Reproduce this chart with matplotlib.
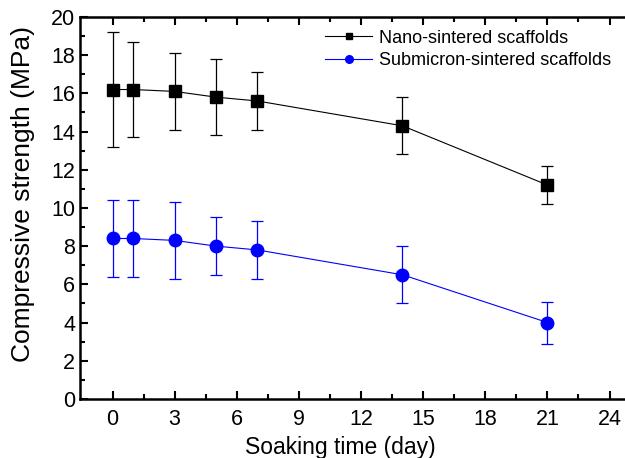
import numpy as np
import matplotlib.pyplot as plt
from matplotlib.lines import Line2D

plt.rcParams['font.family'] = ['Liberation Sans', 'DejaVu Sans']

days = [0, 1, 3, 5, 7, 14, 21]
nano = [16.2, 16.2, 16.1, 15.8, 15.6, 14.3, 11.2]
nano_err = [3.0, 2.5, 2.0, 2.0, 1.5, 1.5, 1.0]
sub = [8.4, 8.4, 8.3, 8.0, 7.8, 6.5, 4.0]
sub_err = [2.0, 2.0, 2.0, 1.5, 1.5, 1.5, 1.1]

fig = plt.figure(figsize=(6.25, 4.58), dpi=100)
ax = fig.add_axes([0.128, 0.129, 0.897, 0.834])

ax.errorbar(days, nano, yerr=nano_err, color='black', marker='s', markersize=8,
            lw=0.8, elinewidth=0.9, capsize=4, capthick=0.9)
ax.errorbar(days, sub, yerr=sub_err, color='#0000ff', marker='o', markersize=9,
            lw=0.8, elinewidth=0.9, capsize=4, capthick=0.9)

ax.set_xlim(-1.57, 25.5)
ax.set_ylim(0, 20)
ax.set_xticks(np.arange(0, 25, 3))
ax.set_xticks(np.arange(1.5, 25, 3), minor=True)
ax.set_yticks(np.arange(0, 21, 2))
ax.set_yticks(np.arange(1, 20, 2), minor=True)
ax.tick_params(which='both', direction='in', top=True, right=False, width=1.5)
ax.tick_params(which='major', length=6, labelsize=15.5)
ax.tick_params(axis='x', which='major', pad=7)
ax.tick_params(which='minor', length=3.5)
for s in ['left', 'bottom', 'top']:
    ax.spines[s].set_linewidth(1.8)
ax.spines['right'].set_visible(False)

ax.set_xlabel('Soaking time (day)', fontsize=16.5)
ax.xaxis.set_label_coords(0.464, -0.097)
ax.set_ylabel('Compressive strength (MPa)', fontsize=19)
ax.yaxis.set_label_coords(-0.080, 0.537)

handles = [
    Line2D([], [], color='black', lw=0.8, marker='s', markersize=5),
    Line2D([], [], color='#0000ff', lw=0.8, marker='o', markersize=5.5),
]
labels = ['Nano-sintered scaffolds', 'Submicron-sintered scaffolds']
ax.legend(handles, labels, loc='upper left', bbox_to_anchor=(0.415, 1.0),
          frameon=False, fontsize=13, handlelength=2.6, handletextpad=0.35,
          labelspacing=0.3, borderaxespad=0.3)

fig.savefig('out.png', dpi=100)
